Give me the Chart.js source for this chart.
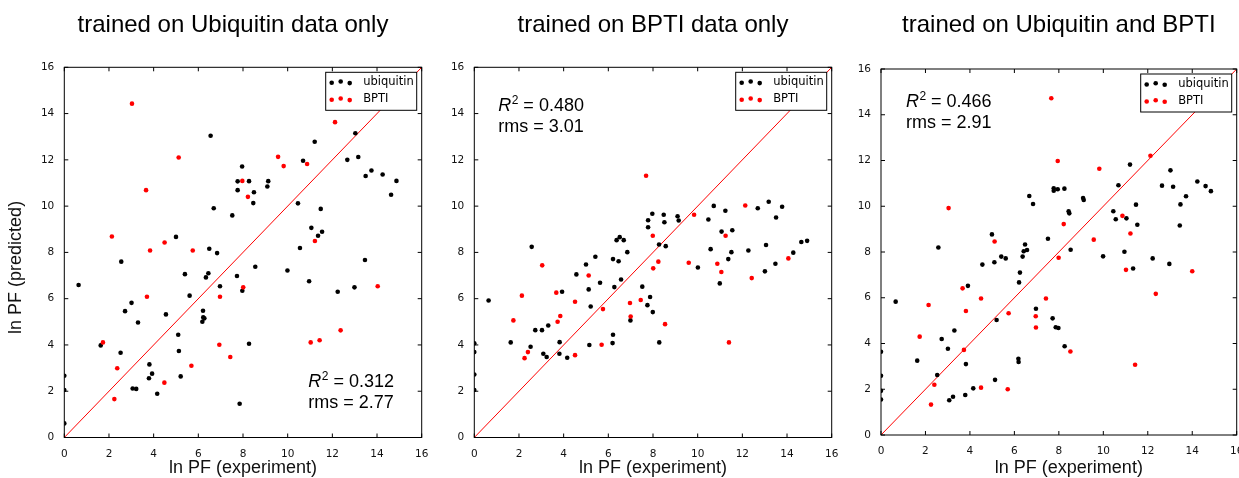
<!DOCTYPE html>
<html>
<head>
<meta charset="utf-8">
<script src="https://cdn.jsdelivr.net/npm/chart.js@4.4.1/dist/chart.umd.min.js"></script>
<style>
  html, body { margin: 0; padding: 0; background: #fff; width: 1239px; height: 478px; overflow: hidden; }
  .panel { position: absolute; top: 0; height: 478px; }
</style>
</head>
<body>
<div class="panel" style="left:0px"><canvas id="c1" width="468" height="478"></canvas></div>
<div class="panel" style="left:440px"><canvas id="c2" width="425" height="478"></canvas></div>
<div class="panel" style="left:840px"><canvas id="c3" width="433" height="478"></canvas></div>
<script>
// values: [ln PF experiment, ln PF predicted]
const ubqTrainUbq = [
  [6.55,13.04],[11.21,12.78],[13.03,13.15],[10.69,11.96],[12.67,12.0],[13.16,12.12],[7.96,11.71],[13.49,11.3],
  [13.75,11.54],[14.25,11.37],[14.87,11.09],[14.63,10.49],[7.76,11.07],[8.27,11.08],[7.76,10.69],[9.13,11.08],
  [9.09,10.85],[8.49,10.6],[8.46,10.13],[6.69,9.91],[7.52,9.6],[10.46,10.12],[11.48,9.88],[11.06,9.06],
  [11.36,8.72],[11.54,8.89],[5.0,8.67],[6.49,8.16],[6.84,7.97],[10.55,8.19],[13.46,7.67],
  [0.64,6.59],[2.55,7.6],[5.4,7.06],[6.45,7.1],[6.34,6.92],[7.73,6.98],[6.97,6.54],[7.97,6.34],[8.55,7.38],
  [9.99,7.22],[10.96,6.75],[12.24,6.3],[12.99,6.49],[3.01,5.82],[2.72,5.46],[3.3,4.97],[4.55,5.32],[5.61,6.13],
  [6.21,5.48],[6.22,5.19],[6.27,5.15],[6.18,5.0],[5.1,4.44],[5.13,3.74],[1.63,3.98],[2.52,3.66],[3.81,3.16],
  [3.79,2.56],[3.93,2.76],[3.06,2.12],[3.22,2.1],[4.16,1.89],[5.21,2.64],[8.27,4.05],[7.85,1.46],
  [0,2.67],[0,2.05],[0,0.61]
];
const ubqTrainBpti = [
  [3.03,14.43],[12.12,13.63],[5.12,12.1],[9.57,12.13],[9.82,11.73],[10.87,11.82],[7.97,11.09],[3.66,10.69],
  [8.22,10.4],[2.13,8.69],[11.22,8.49],[4.49,8.43],[3.84,8.08],[5.75,8.08],[1.73,4.11],[3.7,6.08],[6.97,6.08],
  [8.01,6.49],[2.37,2.99],[2.24,1.66],[4.48,2.37],[5.69,3.1],[6.94,4.01],[7.43,3.48],[11.03,4.11],[11.43,4.2],
  [12.37,4.63],[14.03,6.54]
];
const bptiTrainUbq = [
  [2.57,8.24],[5.42,7.81],[6.21,7.71],[6.46,7.62],[6.37,8.53],[6.51,8.66],[6.69,8.53],[6.85,8.01],[7.78,9.39],
  [7.78,9.09],[7.97,9.67],[8.27,8.34],[8.48,9.63],[8.51,9.3],[8.57,8.27],[9.1,9.56],[9.15,9.38],[10.48,9.42],
  [10.72,10.01],[10.58,8.14],[11.07,8.9],[11.24,9.8],[11.55,8.96],[11.51,8.01],[11.37,7.71],[12.27,8.08],
  [12.69,9.91],[13.18,10.19],[13.78,9.97],[13.51,9.51],[13.06,8.32],[14.28,7.99],[14.64,8.45],[14.9,8.5],
  [0.64,5.92],[1.63,4.11],[2.52,3.92],[2.73,4.64],[3.03,4.64],[3.31,4.84],[3.09,3.62],[3.24,3.48],[3.81,3.62],
  [3.82,4.12],[3.93,6.3],[4.16,3.45],[4.57,7.05],[5.0,7.48],[5.12,6.4],[5.21,5.66],[5.15,4.0],[5.63,6.69],
  [6.27,6.5],[6.57,6.83],[6.21,4.44],[6.19,4.08],[6.99,5.06],[7.52,6.52],[7.75,5.72],[7.87,6.07],[7.99,5.42],
  [8.28,4.11],[10.01,7.35],[10.99,6.66],[13.01,7.18],[13.48,7.51],[0,4.07],[0,3.69],[0,2.72],[0,2.05]
];
const bptiTrainBpti = [
  [7.69,11.31],[9.84,9.63],[12.13,10.03],[7.99,8.72],[11.25,8.72],[14.06,7.74],[8.24,7.6],[3.04,7.44],[5.12,7.0],
  [8.01,7.31],[9.6,7.55],[10.88,7.51],[11.06,7.15],[12.42,6.89],[2.13,6.13],[1.75,5.06],[3.67,6.26],[4.51,5.87],
  [3.85,5.25],[3.73,5.0],[5.76,5.55],[6.97,5.81],[7.45,5.94],[7.0,5.23],[8.54,4.9],[5.7,4.01],[2.25,3.43],
  [2.4,3.69],[4.51,3.56],[11.4,4.11]
];
const bothTrainUbq = [
  [11.2,11.82],[13.02,11.57],[10.68,10.92],[12.64,10.9],[13.14,10.85],[14.23,11.08],[14.6,10.88],[14.84,10.66],
  [13.72,10.44],[13.47,10.08],[11.47,10.07],[13.44,9.16],[11.53,9.19],[10.45,9.78],[10.56,9.43],[11.04,9.47],
  [10.95,8.01],[7.77,10.79],[7.77,10.68],[7.95,10.74],[8.25,10.77],[9.09,10.36],[9.12,10.27],[6.67,10.45],
  [6.84,10.1],[8.44,9.78],[8.47,9.69],[8.53,8.1],[7.51,8.58],[4.99,8.77],[2.58,8.2],[6.48,8.33],[6.42,8.03],
  [6.57,8.09],[6.37,7.8],[5.41,7.8],[5.61,7.72],[9.99,7.81],[12.22,7.72],
  [0.66,5.83],[4.56,7.45],[5.1,7.55],[6.25,7.1],[6.21,6.67],[3.91,6.52],[11.34,7.28],[12.97,7.48],[6.97,5.52],
  [7.72,5.1],[7.86,4.71],[7.98,4.68],[8.26,3.88],[5.2,5.03],[1.63,3.25],[2.73,4.2],[3.3,4.57],[3.01,3.77],
  [2.53,2.62],[3.82,3.1],[6.18,3.33],[6.19,3.19],[3.07,1.52],[3.24,1.67],[3.79,1.75],[4.15,2.04],[5.13,2.41],
  [0,3.64],[0,2.59],[0,1.93],[0,1.55]
];
const bothTrainBpti = [
  [7.66,14.72],[7.95,11.98],[9.82,11.64],[12.12,12.21],[3.04,9.92],[8.22,9.22],[10.86,9.58],[11.22,8.81],
  [9.57,8.54],[5.11,8.46],[7.99,7.75],[11.02,7.22],[14.0,7.16],[12.36,6.17],[3.67,6.41],[4.5,5.97],[3.82,5.42],
  [2.14,5.68],[1.74,4.3],[5.74,5.32],[7.42,5.97],[6.96,5.19],[6.97,4.7],[3.73,3.72],[8.52,3.65],[11.43,3.07],
  [2.4,2.2],[2.25,1.33],[4.5,2.07],[5.7,2.0]
];

const axisMin = 0, axisMax = 16, axisStep = 2;
const panelTitles = ['trained on Ubiquitin data only', 'trained on BPTI data only', 'trained on Ubiquitin and BPTI'];
const r2Values = ['0.312', '0.480', '0.466'];
const rmsValues = ['2.77', '3.01', '2.91'];
const legendNames = ['ubiquitin', 'BPTI'];

const toPts = arr => arr.map(p => ({x: p[0], y: p[1]}));
// the original labels sit a bit off-centre; nudge them with non-breaking spaces
const nb = n => '\u00a0'.repeat(n);

// box around the axes plus matplotlib-style inward ticks on all 4 sides
const frameTicks = {
  id: 'frameTicks',
  afterDatasetsDraw(chart) {
    const {ctx, chartArea: a, scales: {x, y}} = chart;
    ctx.save();
    ctx.strokeStyle = '#000';
    ctx.lineWidth = 1;
    ctx.strokeRect(a.left, a.top, a.right - a.left, a.bottom - a.top);
    ctx.beginPath();
    x.ticks.forEach(t => {
      const px = x.getPixelForValue(t.value);
      ctx.moveTo(px, a.bottom); ctx.lineTo(px, a.bottom - 4);
      ctx.moveTo(px, a.top); ctx.lineTo(px, a.top + 4);
    });
    y.ticks.forEach(t => {
      const py = y.getPixelForValue(t.value);
      ctx.moveTo(a.left, py); ctx.lineTo(a.left + 4, py);
      ctx.moveTo(a.right, py); ctx.lineTo(a.right - 4, py);
    });
    ctx.stroke();
    ctx.restore();
  }
};

// legend box (3 scatter dots per entry) and the R^2 / rms note
const panelNotes = {
  id: 'panelNotes',
  afterDraw(chart, args, opts) {
    const {ctx, chartArea: a, scales: {x, y}} = chart;
    ctx.save();
    // legend
    const bw = 91, bh = 38;
    const bx = a.right - 5 - bw, by = a.top + 5;
    ctx.fillStyle = '#fff';
    ctx.fillRect(bx, by, bw, bh);
    ctx.strokeStyle = '#000';
    ctx.lineWidth = 1;
    ctx.strokeRect(bx, by, bw, bh);
    const colors = ['#000', '#ff0000'];
    const rows = [10, 27];
    const dotX = [6, 15, 24], dotDy = [0.5, -0.8, 0.8];
    ctx.font = '11.5px "DejaVu Sans"';
    ctx.textBaseline = 'middle';
    rows.forEach((ry, i) => {
      ctx.fillStyle = colors[i];
      dotX.forEach((dx, j) => {
        ctx.beginPath();
        ctx.arc(bx + dx, by + ry + dotDy[j], 2.3, 0, Math.PI * 2);
        ctx.fill();
      });
      ctx.fillStyle = '#000';
      ctx.fillText(legendNames[i], bx + 37.5, by + ry);
    });
    // R^2 and rms
    const tx = x.getPixelForValue(opts.at[0]);
    const ty = y.getPixelForValue(opts.at[1]);
    ctx.fillStyle = '#000';
    ctx.textBaseline = 'alphabetic';
    ctx.font = 'italic 18px "Liberation Sans"';
    ctx.fillText('R', tx, ty);
    let cx = tx + ctx.measureText('R').width + 0.5;
    ctx.font = '12px "Liberation Sans"';
    ctx.fillText('2', cx, ty - 7);
    cx += ctx.measureText('2').width;
    ctx.font = '18px "Liberation Sans"';
    ctx.fillText(' = ' + opts.r2, cx, ty);
    ctx.fillText('rms = ' + opts.rms, tx, ty + 21);
    ctx.restore();
  }
};

function makePanel(id, idx, ubq, bpti, g) {
  const tickFont = {family: 'DejaVu Sans', size: 10.5};
  const labelFont = {family: 'Liberation Sans', size: 18, lineHeight: 1};
  return new Chart(document.getElementById(id), {
    type: 'scatter',
    data: {
      datasets: [
        {label: 'BPTI', data: toPts(bpti), backgroundColor: '#ff0000', borderWidth: 0, pointRadius: 2.3},
        {label: 'ubiquitin', data: toPts(ubq), backgroundColor: '#000', borderWidth: 0, pointRadius: 2.3},
        {type: 'line', data: [{x: axisMin, y: axisMin}, {x: axisMax, y: axisMax}],
         borderColor: '#ff0000', borderWidth: 1, pointRadius: 0, fill: false}
      ]
    },
    options: {
      responsive: false,
      animation: false,
      events: [],
      layout: {padding: {left: 0, right: g.padRight, top: 0, bottom: 0}},
      scales: {
        x: {
          type: 'linear', min: axisMin, max: axisMax,
          grid: {display: false},
          border: {display: false},
          ticks: {stepSize: axisStep, font: tickFont, color: '#111', padding: 2, maxRotation: 0},
          title: {display: true, text: g.xLabel, font: labelFont, color: '#111', padding: {top: 0, bottom: 1}},
          afterFit(s) { s.height = g.xh; s.paddingLeft = 0; s.paddingRight = 0; }
        },
        y: {
          type: 'linear', min: axisMin, max: axisMax,
          grid: {display: false},
          border: {display: false},
          ticks: {stepSize: axisStep, font: tickFont, color: '#111', padding: 2},
          title: {display: idx === 0, text: 'ln PF (predicted)' + nb(6), font: labelFont, color: '#111', padding: {top: 6.8, bottom: 0}},
          afterFit(s) { s.width = g.yw; s.paddingTop = 0; s.paddingBottom = 0; }
        }
      },
      plugins: {
        legend: {display: false},
        tooltip: {enabled: false},
        title: {
          display: true, text: g.title, fullSize: false, color: '#000',
          font: {family: 'Liberation Sans', size: 24, weight: 'normal', lineHeight: 1.2},
          padding: {top: 11.3, bottom: g.titleGap}
        },
        panelNotes: {at: g.noteAt, r2: r2Values[idx], rms: rmsValues[idx]}
      }
    },
    plugins: [frameTicks, panelNotes]
  });
}

makePanel('c1', 0, ubqTrainUbq, ubqTrainBpti, {yw: 64.3, padRight: 46.3, xh: 40.5, titleGap: 27.2, noteAt: [10.92, 2.18],
  title: panelTitles[0] + nb(3), xLabel: 'ln PF (experiment)'});
makePanel('c2', 1, bptiTrainUbq, bptiTrainBpti, {yw: 34.3, padRight: 33.3, xh: 40.5, titleGap: 27.2, noteAt: [1.07, 14.09],
  title: panelTitles[1], xLabel: 'ln PF (experiment)'});
makePanel('c3', 2, bothTrainUbq, bothTrainBpti, {yw: 41, padRight: 36.3, xh: 43, titleGap: 28.9, noteAt: [1.12, 14.36],
  title: panelTitles[2], xLabel: nb(4) + 'ln PF (experiment)'});
</script>
</body>
</html>
